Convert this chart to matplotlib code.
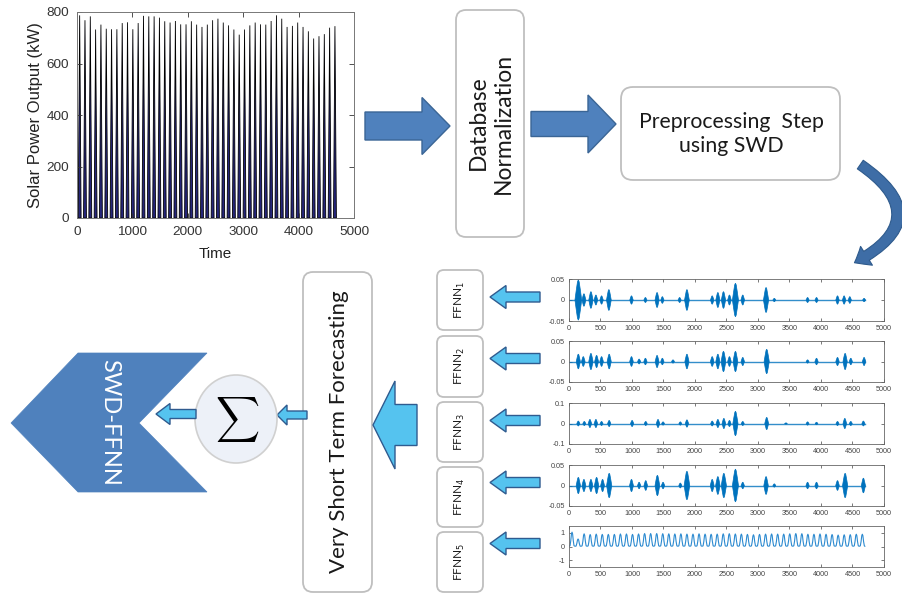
import numpy as np
import matplotlib
matplotlib.use('Agg')
import matplotlib.pyplot as plt
from matplotlib.patches import Polygon, FancyBboxPatch, Ellipse, FancyArrowPatch

plt.rcParams['axes.unicode_minus'] = False

W, H = 903, 594

# ---------------- data ----------------
solar_day_peaks = [787, 768, 783, 732, 751, 735, 733, 733, 757, 760, 733, 757, 785,
                   783, 783, 778, 764, 759, 765, 752, 752, 764, 751, 742, 751, 768,
                   774, 759, 748, 732, 712, 732, 748, 759, 752, 751, 765, 787, 774,
                   742, 746, 759, 742, 725, 697, 706, 714, 739, 745]
samples_per_day = 96
first_peak_time = 48
solar_xticks = [0, 1000, 2000, 3000, 4000, 5000]
solar_yticks = [0, 200, 400, 600, 800]

imf1_centers = [148, 237, 348, 427, 517, 633, 992, 1213, 1398, 1482, 1756, 1872, 2273,
                2363, 2452, 2547, 2642, 2758, 3128, 3259, 3787, 3929, 4262, 4367, 4457, 4684]
imf1_amps = [0.048, 0.015, 0.02, 0.012, 0.01, 0.025, 0.01, 0.006, 0.018, 0.008, 0.006,
             0.025, 0.01, 0.018, 0.02, 0.012, 0.04, 0.012, 0.03, 0.004, 0.006, 0.006,
             0.01, 0.01, 0.008, 0.004]
imf2_centers = [148, 227, 348, 438, 517, 638, 992, 1113, 1213, 1398, 1482, 1651, 1872,
                2273, 2363, 2452, 2547, 2642, 2758, 3138, 3787, 3929, 4262, 4383, 4473, 4684]
imf2_amps = [0.018, 0.012, 0.02, 0.015, 0.012, 0.018, 0.012, 0.006, 0.008, 0.015, 0.008,
             0.004, 0.018, 0.012, 0.018, 0.025, 0.012, 0.025, 0.01, 0.03, 0.004, 0.008,
             0.01, 0.02, 0.008, 0.01]
imf3_centers = [148, 243, 332, 427, 517, 638, 1002, 1218, 1413, 1493, 1767, 1872, 2273,
                2363, 2458, 2547, 2642, 2758, 3138, 3444, 3787, 3929, 4262, 4378, 4473, 4673]
imf3_amps = [0.012, 0.01, 0.02, 0.02, 0.01, 0.015, 0.015, 0.01, 0.02, 0.008, 0.008,
             0.018, 0.012, 0.02, 0.025, 0.015, 0.06, 0.01, 0.03, 0.003, 0.008, 0.006,
             0.01, 0.025, 0.01, 0.012]
imf4_centers = [148, 237, 348, 438, 533, 638, 992, 1113, 1218, 1403, 1493, 1767, 1872,
                2273, 2363, 2458, 2642, 2758, 3128, 3259, 3787, 3929, 4262, 4383, 4673]
imf4_amps = [0.02, 0.015, 0.015, 0.02, 0.015, 0.03, 0.015, 0.008, 0.012, 0.025, 0.008,
             0.006, 0.035, 0.015, 0.022, 0.03, 0.04, 0.008, 0.022, 0.004, 0.008, 0.008,
             0.012, 0.03, 0.018]
imf5_peaks = [1.05, 0.55, 0.93, 0.88, 0.91, 0.89, 0.89, 0.89, 0.92, 0.92, 0.89, 0.92, 0.95,
              0.95, 0.95, 0.94, 0.93, 0.92, 0.93, 0.91, 0.91, 0.93, 0.91, 0.90, 0.91, 0.93,
              0.94, 0.92, 0.91, 0.89, 0.86, 0.89, 0.91, 0.92, 0.91, 0.91, 0.93, 0.95, 0.94,
              0.90, 0.90, 0.92, 0.90, 0.88, 0.84, 0.86, 0.87, 0.90, 0.90]
imf_xticks = [0, 500, 1000, 1500, 2000, 2500, 3000, 3500, 4000, 4500, 5000]
imf_ylims = [0.05, 0.05, 0.1, 0.05, 1.5]
imf_yticks = [[-0.05, 0, 0.05], [-0.05, 0, 0.05], [-0.1, 0, 0.1], [-0.05, 0, 0.05], [-1, 0, 1]]
imf_yticklabels = [['-0.05', '0', '0.05'], ['-0.05', '0', '0.05'], ['-0.1', '0', '0.1'],
                   ['-0.05', '0', '0.05'], ['-1', '0', '1']]
ffnn_labels = ['FFNN$_1$', 'FFNN$_2$', 'FFNN$_3$', 'FFNN$_4$', 'FFNN$_5$']

# ---------------- figure ----------------
fig = plt.figure(figsize=(W / 100, H / 100), dpi=100)
fig.patch.set_facecolor('white')


def px_axes(x0, y0, x1, y1):
    return fig.add_axes([x0 / W, 1 - y1 / H, (x1 - x0) / W, (y1 - y0) / H])


ov = fig.add_axes([0, 0, 1, 1])
ov.set_xlim(0, W)
ov.set_ylim(H, 0)
ov.axis('off')

DARK_FC, DARK_EC = '#4F81BD', '#3A6595'
LIGHT_FC, LIGHT_EC = '#55C3EF', '#2F5B8F'
BOX_EC = '#BFBFBF'
TXT_FONT = ['Lato', 'DejaVu Sans']
TXT_C = '#1a1a1a'


def block_arrow(x_tail, x_base, x_tip, yc, body_h, head_h, fc, ec, lw=1.0):
    pts = [(x_tail, yc - body_h / 2), (x_base, yc - body_h / 2), (x_base, yc - head_h / 2),
           (x_tip, yc), (x_base, yc + head_h / 2), (x_base, yc + body_h / 2),
           (x_tail, yc + body_h / 2)]
    ov.add_patch(Polygon(pts, closed=True, fc=fc, ec=ec, lw=lw, zorder=3))


def rbox(x0, y0, x1, y1, r=8):
    ov.add_patch(FancyBboxPatch((x0, y0), x1 - x0, y1 - y0,
                                boxstyle=f"round,pad=0,rounding_size={r}",
                                fc='white', ec=BOX_EC, lw=1.3, zorder=2))


# top row
block_arrow(365, 422, 450, 126, 28, 57, DARK_FC, DARK_EC)
rbox(456, 10, 524, 237, r=10)
ov.text(491, 123, "Database\nNormalization", rotation=90, ha='center', va='center',
        fontsize=16.5, family=TXT_FONT, linespacing=1.2, color=TXT_C, zorder=4)
block_arrow(531, 588, 616, 124, 25, 58, DARK_FC, DARK_EC)
rbox(621, 87, 840, 180, r=12)
ov.text(731, 134, "Preprocessing  Step\nusing SWD", ha='center', va='center',
        fontsize=15.3, family=TXT_FONT, linespacing=1.3, color=TXT_C, zorder=4)

# curved arrow
ov.add_patch(FancyArrowPatch((858, 163), (852, 264), connectionstyle='arc3,rad=-0.85',
                             arrowstyle='simple,head_length=10,head_width=16,tail_width=7.5',
                             fc='#3E6DA6', ec='#2E5A8C', lw=0.8, zorder=3))

# FFNN boxes and arrows
ffnn_boxes = [(270, 330), (336, 397), (402, 462), (467, 527), (532, 592)]
imf_axes_px = [(279, 321), (341, 382), (403, 444), (465, 506), (526, 567)]
for (b0, b1), lab, (a0, a1) in zip(ffnn_boxes, ffnn_labels, imf_axes_px):
    rbox(437, b0, 483, b1, r=7)
    ov.text(460, (b0 + b1) / 2, lab, rotation=90, ha='center', va='center',
            fontsize=8.5, family=TXT_FONT, color=TXT_C, zorder=4)
    block_arrow(540, 506, 490, (a0 + a1) / 2 - 3, 10, 23, LIGHT_FC, LIGHT_EC)

# big arrow and VSTF
block_arrow(417, 395, 373, 425, 41, 88, LIGHT_FC, LIGHT_EC)
rbox(303, 272, 372, 592, r=10)
ov.text(339, 432, "Very Short Term Forecasting", rotation=90, ha='center', va='center',
        fontsize=16, family=TXT_FONT, color=TXT_C, zorder=4)

# sigma
block_arrow(307, 287, 277, 415, 8, 20, LIGHT_FC, LIGHT_EC)
ov.add_patch(Ellipse((236, 419), 82, 88, fc='#EDF1F8', ec='#D0D0D0', lw=1.2, zorder=3))
ov.text(237, 419, r'$\sum$', ha='center', va='center', fontsize=22,
        math_fontfamily='cm', color='black', zorder=4)
block_arrow(196, 170, 156, 414, 9, 21, LIGHT_FC, LIGHT_EC)

# chevron
chev = [(11, 423), (78, 353), (207, 353), (139, 423), (207, 492), (78, 492)]
ov.add_patch(Polygon(chev, closed=True, fc='#4F81BD', ec='#4F81BD', lw=0.5, zorder=2))
ov.text(110, 422, "SWD-FFNN", rotation=-90, ha='center', va='center', fontsize=17,
        family=TXT_FONT, color='white', zorder=4)

# ---------------- solar plot ----------------
ax = px_axes(77, 12, 354, 218)
day_idx = np.arange(len(solar_day_peaks))
centers = first_peak_time + day_idx * samples_per_day
hw = 26
for c, p in zip(centers, solar_day_peaks):
    ax.fill([c - hw, c, c + hw], [0, p, 0], fc='#26267a', ec='black', lw=0.6)
ax.set_xlim(0, 5000)
ax.set_ylim(0, 800)
ax.set_xticks(solar_xticks)
ax.set_yticks(solar_yticks)
ax.tick_params(direction='in', top=True, right=True, length=3.5, width=0.6,
               labelsize=9.7, colors='#333333', pad=5.5)
for lbl in ax.get_xticklabels() + ax.get_yticklabels():
    lbl.set_family('Liberation Sans')
for s in ax.spines.values():
    s.set_color('#777777')
    s.set_linewidth(0.7)
ax.set_xlabel('Time', fontsize=11, family='Liberation Sans', color='#222222', labelpad=7)
ax.set_ylabel('Solar Power Output (kW)', fontsize=12, family='Liberation Sans',
              color='#222222', labelpad=3)

# ---------------- IMF plots ----------------
IMF_C = '#0072BD'
env_x = np.array([-1, -0.6, -0.25, 0, 0.25, 0.6, 1])
env_y = np.array([0, 0.5, 0.9, 1, 0.9, 0.5, 0])
bursts = [(imf1_centers, imf1_amps), (imf2_centers, imf2_amps),
          (imf3_centers, imf3_amps), (imf4_centers, imf4_amps)]
for k, (a0, a1) in enumerate(imf_axes_px):
    a = px_axes(569, a0, 884, a1)
    if k < 4:
        cs, amps = bursts[k]
        a.plot([0, 4700], [0, 0], color=IMF_C, lw=1.0, alpha=0.8)
        for c, am in zip(cs, amps):
            bw = 20 + 35 * am / imf_ylims[k]
            xs = np.concatenate([c + bw * env_x, (c + bw * env_x)[::-1]])
            ys = np.concatenate([am * env_y, -(am * env_y)[::-1]])
            a.fill(xs, ys, fc=IMF_C, ec=IMF_C, lw=0.5)
    else:
        off = np.array([-48, -32, -20, -9, 0, 9, 20, 32])
        frac = np.array([0.02, 0.05, 0.4, 0.88, 1, 0.88, 0.4, 0.05])
        xs, ys = [], []
        for c, p in zip(centers, imf5_peaks):
            xs.extend(c + off)
            ys.extend(np.maximum(p * frac, 0.02))
        xs.append(centers[-1] + 40)
        ys.append(0.02)
        a.plot(xs, ys, color='#2C8AD0', lw=0.8)
    a.set_xlim(0, 5000)
    a.set_ylim(-imf_ylims[k], imf_ylims[k])
    a.set_xticks(imf_xticks)
    a.set_yticks(imf_yticks[k])
    a.set_yticklabels(imf_yticklabels[k])
    a.tick_params(direction='in', top=True, right=True, length=2.5, width=0.5,
                  labelsize=5.2, colors='#444444', pad=3)
    for lbl in a.get_xticklabels() + a.get_yticklabels():
        lbl.set_family('Liberation Sans')
    for s in a.spines.values():
        s.set_color('#666666')
        s.set_linewidth(0.6)

fig.savefig('out.png', dpi=100)
